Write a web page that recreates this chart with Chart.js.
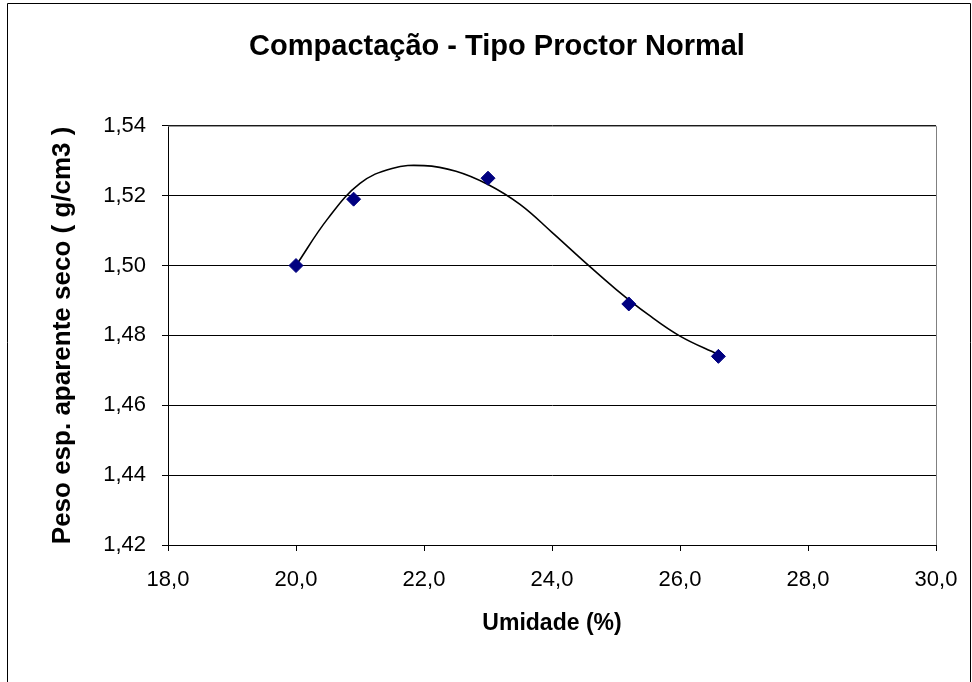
<!DOCTYPE html>
<html>
<head>
<meta charset="utf-8">
<script src="https://cdn.jsdelivr.net/npm/chart.js@4/dist/chart.umd.min.js"></script>
<style>
  html, body { margin: 0; padding: 0; background: #fff; }
  #wrap { width: 972px; height: 682px; }
</style>
</head>
<body>
<div id="wrap"><canvas id="chart1" width="972" height="682"></canvas></div>
<script>
// ensaios (umidade %, peso esp. aparente seco g/cm3)
const UMIDADE = [20.0, 20.9, 23.0, 25.2, 26.6];
const PESO = [1.500, 1.519, 1.525, 1.489, 1.474];

// curva de ajuste
const CURVA_X = [20.0, 20.5, 21.0, 21.5, 22.0, 22.5, 23.0, 23.5, 24.0, 24.5, 25.0, 25.5, 26.0, 26.6];
const CURVA_Y = [1.500, 1.5135, 1.5235, 1.5278, 1.5286, 1.5270, 1.5232, 1.5175, 1.5095, 1.5012, 1.4932, 1.4860, 1.4798, 1.4745];

const X_MIN = 18, X_MAX = 30, X_STEP = 2;
const Y_MIN = 1.42, Y_MAX = 1.54, Y_STEP = 0.02;

const FONT = 'Liberation Sans, Arial, sans-serif';

const frame = {
    id: 'frame',
    beforeDraw(chart) {
        const ctx = chart.ctx;
        ctx.save();
        ctx.fillStyle = '#fff';
        ctx.fillRect(0, 0, chart.width, chart.height);
        ctx.strokeStyle = '#000';
        ctx.lineWidth = 1;
        ctx.beginPath();
        ctx.moveTo(7.5, chart.height);
        ctx.lineTo(7.5, 3.5);
        ctx.lineTo(970.5, 3.5);
        ctx.lineTo(970.5, chart.height);
        ctx.stroke();
        ctx.restore();
    },
    beforeDatasetsDraw(chart) {
        const {ctx, chartArea: a} = chart;
        ctx.save();
        ctx.strokeStyle = '#808080';
        ctx.lineWidth = 1;
        ctx.beginPath();
        ctx.moveTo(a.left, a.top + 0.5);
        ctx.lineTo(a.right + 0.5, a.top + 0.5);
        ctx.lineTo(a.right + 0.5, a.bottom);
        ctx.stroke();
        ctx.restore();
    }
};

new Chart(
    document.getElementById('chart1'),
    {
        type: 'scatter',
        data: {
            datasets: [
                {
                    label: 'Ensaios',
                    data: UMIDADE.map((x, i) => ({x, y: PESO[i]})),
                    pointStyle: 'rectRot',
                    pointRadius: 7,
                    pointBackgroundColor: '#000080',
                    pointBorderColor: '#000080',
                    borderColor: '#000080',
                    order: 0,
                },
                {
                    label: 'Curva',
                    data: CURVA_X.map((x, i) => ({x, y: CURVA_Y[i]})),
                    showLine: true,
                    pointRadius: 0,
                    borderColor: '#000',
                    borderWidth: 1.6,
                    tension: 0.4,
                    order: 1,
                },
            ]
        },
        options: {
            responsive: false,
            animation: false,
            layout: {padding: {left: 22, right: 0, top: 0, bottom: 0}},
            scales: {
                x: {
                    min: X_MIN,
                    max: X_MAX,
                    afterFit: s => { s.height = 682 - 545; s.paddingRight = 36; s.paddingLeft = 0; },
                    ticks: {
                        stepSize: X_STEP,
                        color: '#000',
                        padding: 16,
                        font: {family: FONT, size: 22},
                        callback: v => v.toFixed(1).replace('.', ','),
                    },
                    grid: {drawOnChartArea: false, tickLength: 6, color: '#000'},
                    border: {color: '#000', width: 1},
                    title: {
                        display: true,
                        text: 'Umidade (%)',
                        color: '#000',
                        font: {family: FONT, size: 23, weight: 'bold'},
                        padding: {top: 0, bottom: 45},
                    },
                },
                y: {
                    min: Y_MIN,
                    max: Y_MAX,
                    afterFit: s => { s.width = 168 - 22; },
                    ticks: {
                        stepSize: Y_STEP,
                        color: '#000',
                        padding: 16,
                        font: {family: FONT, size: 22},
                        callback: v => v.toFixed(2).replace('.', ','),
                    },
                    grid: {color: '#000', tickLength: 6},
                    border: {color: '#000', width: 1},
                    title: {
                        display: true,
                        text: 'Peso esp. aparente seco ( g/cm3 )',
                        color: '#000',
                        font: {family: FONT, size: 26, weight: 'bold'},
                        padding: {top: 25, bottom: 0},
                    },
                },
            },
            plugins: {
                legend: {display: false},
                tooltip: {enabled: false},
                title: {
                    display: true,
                    text: 'Compactação - Tipo Proctor Normal',
                    color: '#000',
                    font: {family: FONT, size: 29, weight: 'bold'},
                    padding: {top: 30, bottom: 61},
                },
            }
        },
        plugins: [frame]
    }
);
</script>
</body>
</html>
